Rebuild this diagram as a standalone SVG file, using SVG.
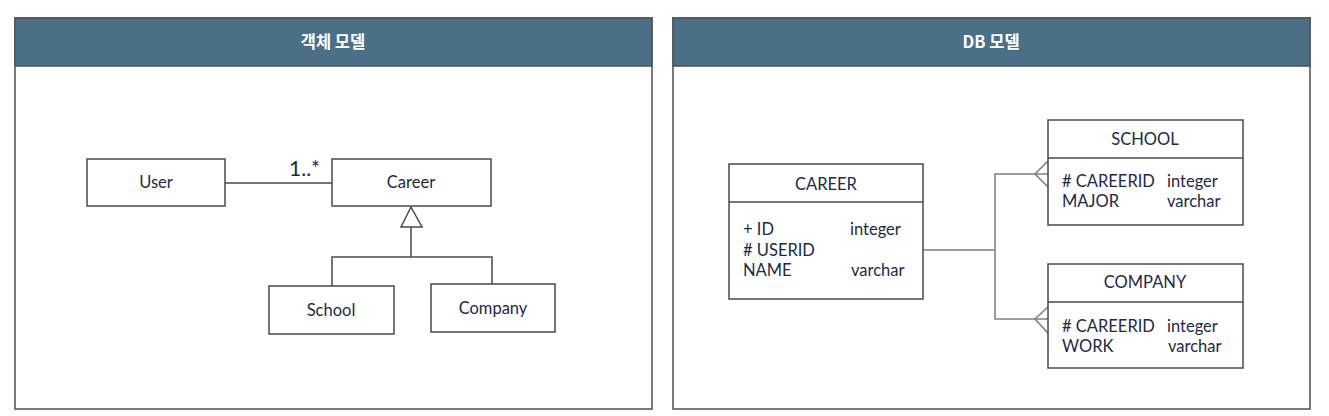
<svg xmlns="http://www.w3.org/2000/svg" width="1329" height="416" viewBox="0 0 1329 416">
<style>
.panel{fill:#fff;stroke:#5a5a5a;stroke-width:1.6}
.head{fill:#4a6f87;stroke:#555;stroke-width:1.6}
.htxt{font-family:"Noto Sans CJK KR","Noto Sans",sans-serif;font-size:16.5px;font-weight:bold;fill:#fff;text-anchor:middle}
.box{fill:#fff;stroke:#4a4a4a;stroke-width:1.5}
.t{font-family:Lato,"Open Sans",sans-serif;font-size:16.5px;fill:#1c2a45}
.c{text-anchor:middle}
.conn{fill:none;stroke:#4a4a4a;stroke-width:1.5}
.econn{fill:none;stroke:#808080;stroke-width:1.6}
</style>
<g id="panel-object">
<rect class="panel" x="15" y="18" width="637" height="391"/>
<rect class="head" x="15" y="18" width="637" height="48"/>
<text class="htxt" x="333" y="48">객체 모델</text>
</g>
<g id="panel-db">
<rect class="panel" x="673" y="18" width="637" height="391"/>
<rect class="head" x="673" y="18" width="637" height="48"/>
<text class="htxt" x="991" y="48">DB 모델</text>
</g>
<g id="connectors">
<line class="conn" x1="225" y1="183" x2="332" y2="183"/>
<text class="t" x="289" y="176" style="font-size:21px">1..*</text>
<polygon class="conn" points="411,207 401,227 422,227"/>
<polyline class="conn" points="411,227 411,257"/>
<polyline class="conn" points="332,286 332,257 492,257 492,284"/>
<polyline class="econn" points="923,250 995,250"/>
<polyline class="econn" points="1048,174 995,174 995,319 1048,319"/>
<polyline class="econn" points="1048,161 1035,174 1048,187"/>
<polyline class="econn" points="1048,307 1035,319 1048,333"/>
</g>
<g id="node-user">
<rect class="box" x="87" y="159" width="138" height="47"/>
<text class="t c" x="156" y="188">User</text>
</g>
<g id="node-career">
<rect class="box" x="332" y="159" width="159" height="47"/>
<text class="t c" x="411" y="188">Career</text>
</g>
<g id="node-school">
<rect class="box" x="269" y="286" width="125" height="48"/>
<text class="t c" x="331" y="316">School</text>
</g>
<g id="node-company">
<rect class="box" x="431" y="284" width="124" height="48"/>
<text class="t c" x="493" y="314">Company</text>
</g>
<g id="node-CAREER">
<rect class="box" x="729" y="164" width="194" height="135"/>
<line class="box" x1="729" y1="202" x2="923" y2="202"/>
<text class="t c" x="826" y="190">CAREER</text>
<text class="t" x="743" y="235">+ ID</text>
<text class="t" x="850" y="235">integer</text>
<text class="t" x="743" y="256"># USERID</text>
<text class="t" x="743" y="276">NAME</text>
<text class="t" x="851" y="276">varchar</text>
</g>
<g id="node-SCHOOL">
<rect class="box" x="1048" y="120" width="195" height="105"/>
<line class="box" x1="1048" y1="158" x2="1243" y2="158"/>
<text class="t c" x="1145" y="145">SCHOOL</text>
<text class="t" x="1062" y="187"># CAREERID</text>
<text class="t" x="1167" y="187">integer</text>
<text class="t" x="1062" y="207">MAJOR</text>
<text class="t" x="1167" y="207">varchar</text>
</g>
<g id="node-COMPANY">
<rect class="box" x="1048" y="264" width="195" height="104"/>
<line class="box" x1="1048" y1="302" x2="1243" y2="302"/>
<text class="t c" x="1145" y="288">COMPANY</text>
<text class="t" x="1062" y="332"># CAREERID</text>
<text class="t" x="1167" y="332">integer</text>
<text class="t" x="1062" y="352">WORK</text>
<text class="t" x="1168" y="352">varchar</text>
</g>
</svg>
